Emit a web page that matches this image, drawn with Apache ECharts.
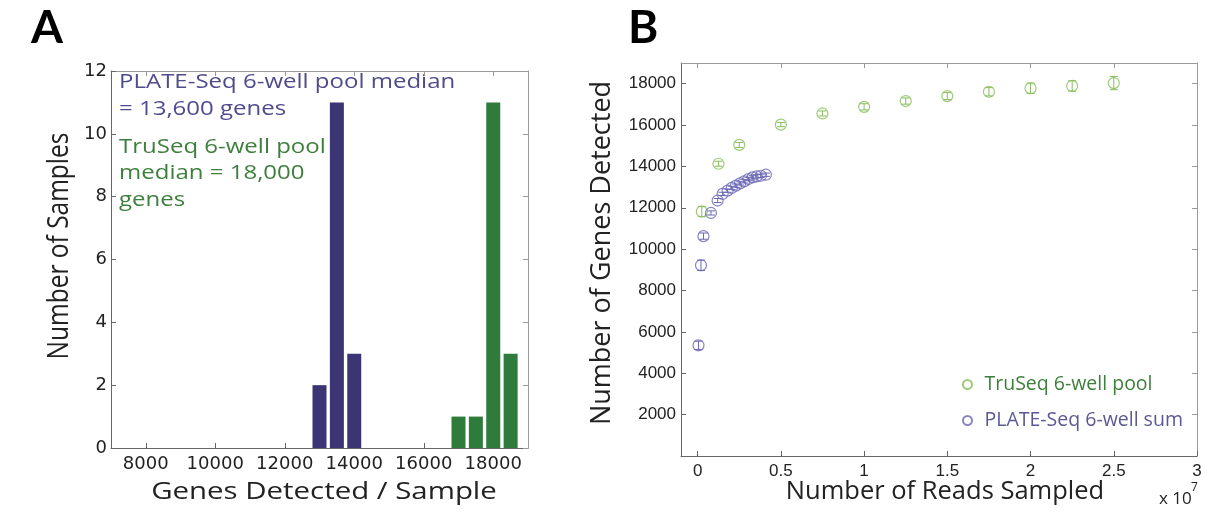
<!DOCTYPE html>
<html><head><meta charset="utf-8">
<script src="https://cdn.jsdelivr.net/npm/echarts@6/dist/echarts.min.js"></script>
<style>html,body{margin:0;padding:0;background:#fff}#c{width:1208px;height:523px}</style>
</head><body><div id="c"></div>
<script>
// ---- Panel A: histogram of genes detected per sample ----
const histBinsPlate = [13000, 13500, 14000];
const histCountsPlate = [2, 11, 3];
const histBinsTruSeq = [17000, 17500, 18000, 18500];
const histCountsTruSeq = [1, 1, 11, 3];
const histXTicks = [8000, 10000, 12000, 14000, 16000, 18000];
const histNotePlate = ['PLATE-Seq 6-well pool median', '= 13,600 genes'];
const histNoteTruSeq = ['TruSeq 6-well pool', 'median = 18,000', 'genes'];

// ---- Panel B: saturation curve (reads in units of 10^7) ----
const truseqReads = [0.025, 0.125, 0.25, 0.5, 0.75, 1.0, 1.25, 1.5, 1.75, 2.0, 2.25, 2.5];
const truseqGenes = [11820, 14130, 15040, 16020, 16560, 16880, 17160, 17400, 17610, 17780, 17890, 18030];
const truseqErr = [250, 120, 120, 100, 120, 150, 150, 170, 200, 250, 250, 320];
const plateReads = [0.005, 0.02, 0.035, 0.08, 0.12, 0.15, 0.18, 0.205, 0.23, 0.255, 0.28, 0.305, 0.33, 0.355, 0.38, 0.41];
const plateGenes = [5350, 9220, 10630, 11750, 12350, 12670, 12830, 12960, 13070, 13180, 13280, 13390, 13470, 13520, 13550, 13600];
const plateErr = [200, 250, 150, 100, 100, 80, 80, 80, 80, 80, 80, 80, 80, 80, 80, 80];
const curveXTicks = [0, 0.5, 1, 1.5, 2, 2.5, 3];
const curveYTicks = [2000, 4000, 6000, 8000, 10000, 12000, 14000, 16000, 18000];
const seriesNames = ['TruSeq 6-well pool', 'PLATE-Seq 6-well sum'];

const PURPLE_BAR = '#3b3573', GREEN_BAR = '#2e7b3c';
const PURPLE_TXT = '#4e4c8e', GREEN_TXT = '#3d7f3d';
const GREEN_PT = '#86bd5a', PURPLE_PT = '#6a66b4';
const AXIS_DARK = '#666', AXIS_LIGHT = '#9a9a9a';

const zip = (a, b) => a.map((v, i) => [v, b[i]]);
const zip3 = (a, b, c) => a.map((v, i) => [v, b[i], c[i]]);
const plain = v => String(v);

function frameAxis(base, opts) {
  return Object.assign({
    axisLine: {show: true, onZero: false, lineStyle: {color: AXIS_LIGHT, width: 1}},
    axisLabel: {show: false},
    splitLine: {show: false}
  }, base, opts);
}

function errRender(color) {
  return function (params, api) {
    const x = api.value(0), y = api.value(1), e = api.value(2);
    const hi = api.coord([x, y + e]), lo = api.coord([x, y - e]);
    const w = 4;
    const st = {stroke: color, lineWidth: 1};
    return {type: 'group', children: [
      {type: 'line', shape: {x1: hi[0], y1: hi[1], x2: lo[0], y2: lo[1]}, style: st},
      {type: 'line', shape: {x1: hi[0] - w, y1: hi[1], x2: hi[0] + w, y2: hi[1]}, style: st},
      {type: 'line', shape: {x1: lo[0] - w, y1: lo[1], x2: lo[0] + w, y2: lo[1]}, style: st}
    ]};
  };
}

const tickA = {fontFamily: 'DejaVu Sans', fontSize: 18, color: '#222', formatter: plain};
const tickB = {fontFamily: 'Liberation Sans', fontSize: 17, color: '#222', formatter: plain};

const graphics = [
  {type: 'text', x: 31, y: 28, style: {text: 'A', font: 'bold 46px Lato', fill: '#000', verticalAlign: 'middle'}},
  {type: 'text', x: 628, y: 28, style: {text: 'B', font: 'bold 46px Lato', fill: '#000', verticalAlign: 'middle'}},
  // axis titles
  {type: 'text', x: 324, y: 492, scaleX: 1.2, style: {text: 'Genes Detected / Sample', font: '24.5px "Open Sans"', fill: '#222', align: 'center', verticalAlign: 'middle'}},
  {type: 'text', x: 60, y: 246, rotation: Math.PI / 2, scaleY: 1.2, style: {text: 'Number of Samples', font: '24.5px "Open Sans"', fill: '#222', align: 'center', verticalAlign: 'middle'}},
  {type: 'text', x: 945, y: 492, style: {text: 'Number of Reads Sampled', font: '25.5px "Open Sans"', fill: '#222', align: 'center', verticalAlign: 'middle'}},
  {type: 'text', x: 602, y: 253, rotation: Math.PI / 2, style: {text: 'Number of Genes Detected', font: '27px "Open Sans"', fill: '#222', align: 'center', verticalAlign: 'middle'}},
  {type: 'text', x: 1159, y: 499, style: {text: 'x 10', font: '17px "Open Sans"', fill: '#222', verticalAlign: 'middle'}},
  {type: 'text', x: 1191, y: 488, style: {text: '7', font: '12px "Open Sans"', fill: '#222', verticalAlign: 'middle'}}
];
const noteY = [82.5, 109, 147, 173.5, 200];
histNotePlate.forEach((t, i) => graphics.push({type: 'text', x: 119, y: noteY[i], scaleX: 1.2,
  style: {text: t, font: '20px "Open Sans"', fill: PURPLE_TXT, verticalAlign: 'middle'}}));
histNoteTruSeq.forEach((t, i) => graphics.push({type: 'text', x: 119, y: noteY[i + 2], scaleX: 1.2,
  style: {text: t, font: '20px "Open Sans"', fill: GREEN_TXT, verticalAlign: 'middle'}}));

const option = {
  backgroundColor: '#fff',
  animation: false,
  grid: [
    {left: 111, top: 71, width: 417, height: 377},
    {left: 681, top: 63, width: 516, height: 393}
  ],
  xAxis: [
    {type: 'value', gridIndex: 0, min: 7000, max: 19000, position: 'bottom',
      axisLine: {show: true, onZero: false, lineStyle: {color: AXIS_DARK}},
      axisTick: {show: true, inside: true, length: 5, customValues: histXTicks, lineStyle: {color: AXIS_DARK}},
      axisLabel: {customValues: histXTicks, margin: 7, ...tickA},
      splitLine: {show: false}},
    frameAxis({type: 'value', gridIndex: 0, min: 7000, max: 19000, position: 'top'},
      {axisTick: {show: true, inside: true, length: 5, customValues: histXTicks, lineStyle: {color: AXIS_LIGHT}}}),
    {type: 'value', gridIndex: 1, min: -0.1, max: 3, position: 'bottom',
      axisLine: {show: true, onZero: false, lineStyle: {color: AXIS_DARK}},
      axisTick: {show: true, inside: true, length: 5, customValues: curveXTicks, lineStyle: {color: AXIS_DARK}},
      axisLabel: {customValues: curveXTicks, margin: 7, ...tickB},
      splitLine: {show: false}},
    frameAxis({type: 'value', gridIndex: 1, min: -0.1, max: 3, position: 'top'},
      {axisTick: {show: true, inside: true, length: 5, customValues: curveXTicks, lineStyle: {color: AXIS_LIGHT}}})
  ],
  yAxis: [
    {type: 'value', gridIndex: 0, min: 0, max: 12, interval: 2, position: 'left',
      axisLine: {show: true, onZero: false, lineStyle: {color: AXIS_DARK}},
      axisTick: {show: true, inside: true, length: 5, lineStyle: {color: AXIS_DARK}},
      axisLabel: {margin: 4, ...tickA},
      splitLine: {show: false}},
    frameAxis({type: 'value', gridIndex: 0, min: 0, max: 12, interval: 2, position: 'right'},
      {axisTick: {show: true, inside: true, length: 5, lineStyle: {color: AXIS_LIGHT}}}),
    {type: 'value', gridIndex: 1, min: 0, max: 19000, position: 'left',
      axisLine: {show: true, onZero: false, lineStyle: {color: AXIS_DARK}},
      axisTick: {show: true, inside: true, length: 5, customValues: curveYTicks, lineStyle: {color: AXIS_DARK}},
      axisLabel: {customValues: curveYTicks, margin: 5, ...tickB},
      splitLine: {show: false}},
    frameAxis({type: 'value', gridIndex: 1, min: 0, max: 19000, position: 'right'},
      {axisTick: {show: true, inside: true, length: 5, customValues: curveYTicks, lineStyle: {color: AXIS_LIGHT}}})
  ],
  legend: {
    left: 957, top: 369, orient: 'vertical', itemWidth: 24, itemHeight: 9, itemGap: 15,
    selectedMode: false,
    textStyle: {fontFamily: 'Open Sans', fontSize: 19.5, lineHeight: 21},
    data: [
      {name: seriesNames[0], textStyle: {color: GREEN_TXT}},
      {name: seriesNames[1], textStyle: {color: '#5b5994'}}
    ]
  },
  graphic: graphics,
  series: [
    {type: 'bar', name: 'PLATE-Seq histogram', xAxisIndex: 0, yAxisIndex: 0, barWidth: 14, barGap: '-100%',
      itemStyle: {color: PURPLE_BAR}, data: zip(histBinsPlate, histCountsPlate)},
    {type: 'bar', name: 'TruSeq histogram', xAxisIndex: 0, yAxisIndex: 0, barWidth: 14, barGap: '-100%',
      itemStyle: {color: GREEN_BAR}, data: zip(histBinsTruSeq, histCountsTruSeq)},
    {type: 'custom', name: 'TruSeq err', xAxisIndex: 2, yAxisIndex: 2, renderItem: errRender(GREEN_PT),
      encode: {x: 0, y: 1}, data: zip3(truseqReads, truseqGenes, truseqErr), z: 3},
    {type: 'custom', name: 'PLATE err', xAxisIndex: 2, yAxisIndex: 2, renderItem: errRender(PURPLE_PT),
      encode: {x: 0, y: 1}, data: zip3(plateReads, plateGenes, plateErr), z: 3},
    {type: 'scatter', name: seriesNames[0], xAxisIndex: 2, yAxisIndex: 2, symbol: 'circle', symbolSize: 11,
      itemStyle: {color: 'rgba(0,0,0,0)', borderColor: GREEN_PT, borderWidth: 1.2}, data: zip(truseqReads, truseqGenes), z: 4},
    {type: 'scatter', name: seriesNames[1], xAxisIndex: 2, yAxisIndex: 2, symbol: 'circle', symbolSize: 11,
      itemStyle: {color: 'rgba(0,0,0,0)', borderColor: PURPLE_PT, borderWidth: 1.2}, data: zip(plateReads, plateGenes), z: 4}
  ]
};
echarts.init(document.getElementById('c')).setOption(option);
</script></body></html>
